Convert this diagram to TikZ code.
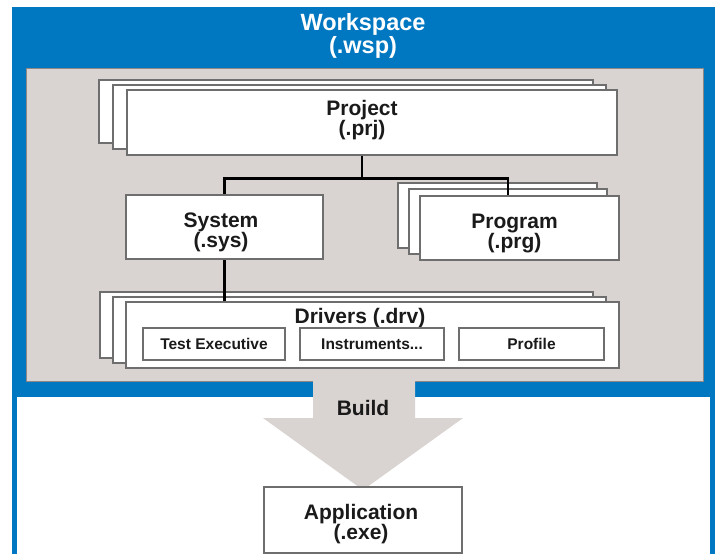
\documentclass[tikz,border=0pt]{standalone}
\usepackage{fontspec}
\setmainfont{Liberation Sans}
\usepackage{tikz}
\usetikzlibrary{positioning, calc}
\definecolor{wsblue}{HTML}{0077C1}
\definecolor{panelgrey}{HTML}{D9D4D1}
\definecolor{panelline}{HTML}{8C8886}
\definecolor{boxline}{HTML}{6E6E6E}
\definecolor{textdark}{HTML}{1A1A1A}

\begin{document}
\begin{tikzpicture}[
    x=1pt, y=-1pt,
    box/.style={rectangle, draw=boxline, fill=white, line width=1.3pt, inner sep=0pt},
    subbox/.style={rectangle, draw=boxline, fill=white, line width=1.1pt, inner sep=0pt, minimum height=32pt, font=\fontsize{15.5}{18}\selectfont\bfseries, text=textdark},
    lbl/.style={font=\fontsize{21}{20}\selectfont\bfseries, text=textdark, align=center, inner sep=0pt},
    link/.style={draw=black, line width=2.8pt},
]
\useasboundingbox (0,0) rectangle (719,554);

% Workspace frame
\fill[wsblue] (12,7) rectangle (715,554);
\fill[white] (17,397) rectangle (710,554);
\filldraw[fill=panelgrey, draw=panelline, line width=1pt] (26,68) rectangle (703,381);
\node[font=\fontsize{23.5}{23}\selectfont\bfseries, text=white, align=center] (wsp) at (363,36) {Workspace\\(.wsp)};

% Build arrow
\fill[panelgrey] (313,380) -- (415,380) -- (415,418) -- (463,418) -- (363,490) -- (263,418) -- (313,418) -- cycle;
\node[lbl] (build) at (363,408) {Build};

% Project stack
\node[box, minimum width=494pt, minimum height=63pt] (prjb2) at (346,111.5) {};
\node[box, minimum width=493pt, minimum height=64pt] (prjb1) at (359.5,117) {};
\node[box, minimum width=490pt, minimum height=65pt] (prj) at (372,122.5) {};
\node[lbl] (prjlbl) at (362,120) {Project\\(.prj)};

% System
\node[box, minimum width=197pt, minimum height=64pt] (sys) at (224.5,227) {};
\node[lbl] (syslbl) at (221,232) {System\\(.sys)};

% Program stack
\node[box, minimum width=199pt, minimum height=65pt] (prgb2) at (497.5,215.5) {};
\node[box, minimum width=198pt, minimum height=65pt] (prgb1) at (508,221.5) {};
\node[box, minimum width=199pt, minimum height=64pt] (prg) at (519.5,228) {};
\node[lbl] (prglbl) at (514.5,233) {Program\\(.prg)};

% Drivers stack
\node[box, minimum width=493pt, minimum height=66pt] (drvb2) at (346.5,325) {};
\node[box, minimum width=493pt, minimum height=66pt] (drvb1) at (359.5,330) {};
\node[box, minimum width=493pt, minimum height=66pt] (drv) at (372.5,335) {};
\node[lbl] (drvlbl) at (360,318) {Drivers (.drv)};
\node[subbox, minimum width=142pt] (testexec) at (214,344) {Test Executive};
\node[subbox, minimum width=144pt] (instr) at (372,344) {Instruments...};
\node[subbox, minimum width=145pt] (profile) at (531.5,344) {Profile};

% Application
\node[box, minimum width=198pt, minimum height=66pt] (app) at (363,520) {};
\node[lbl] (applbl) at (361,524) {Application\\(.exe)};

% Connectors
\draw[link] (prjlbl |- prj.south) -- ++(0,23) coordinate (fork);
\draw[link] (sys.north) |- (fork) -| (prgb1.north |- prg.north);
\draw[link] (sys.south) -- (sys.south |- drv.north);

\end{tikzpicture}
\end{document}
